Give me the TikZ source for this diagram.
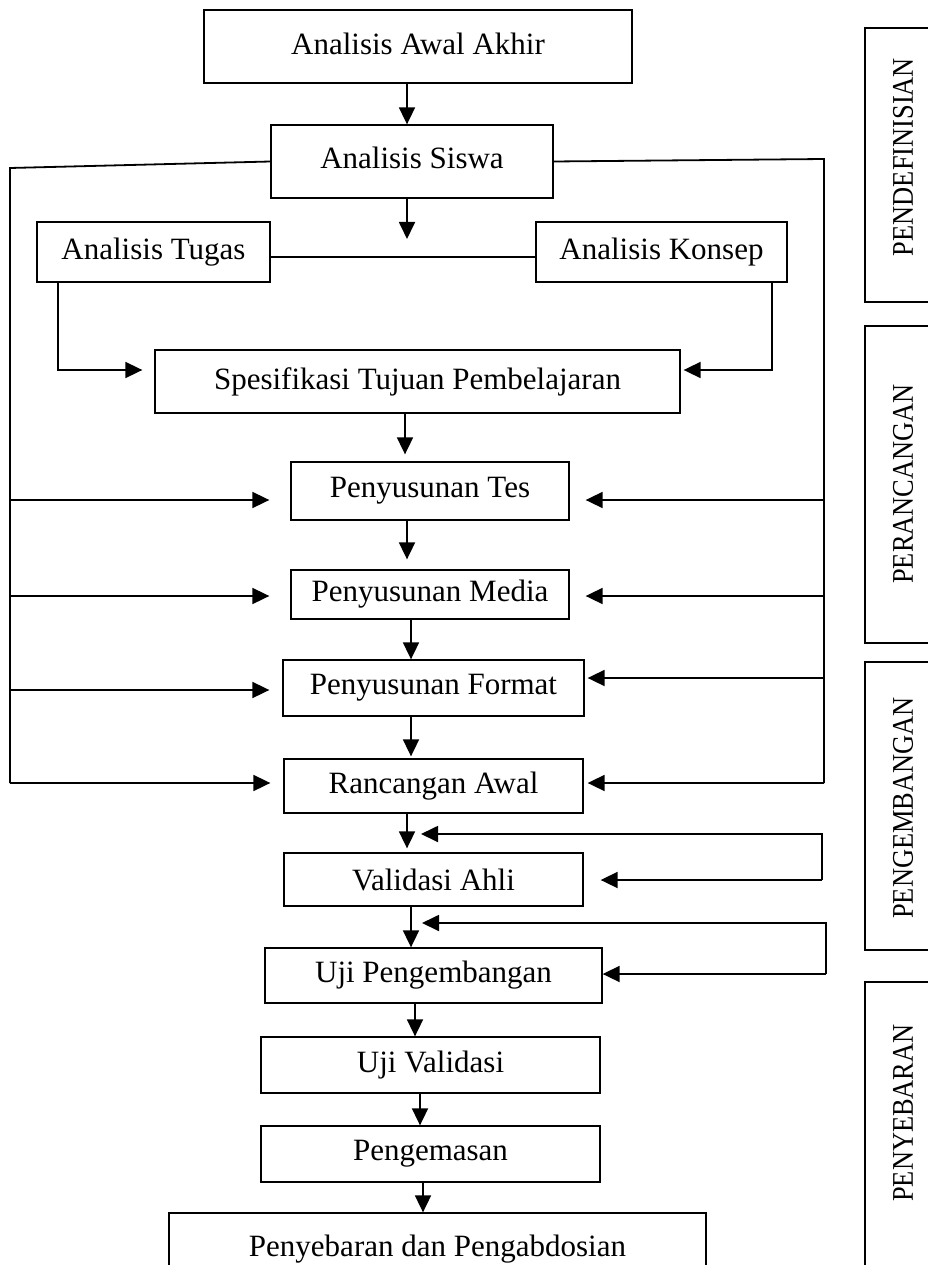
\documentclass[tikz,border=0pt]{standalone}
\usepackage{fontspec}
\setmainfont{Liberation Serif}
\usetikzlibrary{arrows.meta}
\begin{document}
\begin{tikzpicture}[x=1pt,y=-1pt,
  box/.style={draw, line width=1.3pt, inner sep=0pt, font=\fontsize{31}{36}\selectfont},
  flow/.style={line width=1.8pt, -{Triangle[length=17pt,width=16pt]}},
  link/.style={line width=1.8pt},
  sidebox/.style={line width=1.3pt},
  sidetext/.style={rotate=90, inner sep=0pt, font=\fontsize{30}{34}\selectfont},
]
\useasboundingbox (0,0) rectangle (928,1265);

% ---------- main flow boxes ----------
\node[box, minimum width=428pt, minimum height=73pt] (awal) at (418,46.5) {\raisebox{6pt}{Analisis Awal Akhir}};
\node[box, minimum width=282pt, minimum height=73pt] (siswa) at (412,161.5) {\raisebox{8pt}{Analisis Siswa}};
\node[box, minimum width=233pt, minimum height=60pt] (tugas) at (153.5,252) {Analisis Tugas};
\node[box, minimum width=251pt, minimum height=60pt] (konsep) at (661.5,252) {Analisis Konsep};
\node[box, minimum width=525pt, minimum height=63pt] (spes) at (417.5,381.5) {Spesifikasi Tujuan Pembelajaran};
\node[box, minimum width=278pt, minimum height=58pt] (tes) at (430,491) {Penyusunan Tes};
\node[box, minimum width=278pt, minimum height=49pt] (media) at (430,594.5) {\raisebox{-5pt}{Penyusunan Media}};
\node[box, minimum width=301pt, minimum height=56pt] (format) at (433.5,688) {Penyusunan Format};
\node[box, minimum width=299pt, minimum height=54pt] (ranc) at (433.5,786) {Rancangan Awal};
\node[box, minimum width=299pt, minimum height=53pt] (valid) at (433.5,879.5) {Validasi Ahli};
\node[box, minimum width=337pt, minimum height=55pt] (ujip) at (433.5,975.5) {Uji Pengembangan};
\node[box, minimum width=339pt, minimum height=56pt] (ujiv) at (430.5,1065) {Uji Validasi};
\node[box, minimum width=339pt, minimum height=56pt] (kemas) at (430.5,1154) {Pengemasan};
\node[box, minimum width=537pt, minimum height=77pt] (final) at (437.5,1251.5) {\raisebox{11pt}{Penyebaran dan Pengabdosian}};

% ---------- column coordinates ----------
\coordinate (c405) at (405,0);
\coordinate (c407) at (407,0);
\coordinate (c411) at (411,0);
\coordinate (c415) at (415,0);
\coordinate (c420) at (420,0);
\coordinate (c423) at (423,0);

% ---------- vertical flow arrows ----------
\draw[flow] (awal.south -| c407) -- (siswa.north -| c407);
\coordinate (sd) at (407,239);
\draw[flow] (siswa.south -| c407) -- (sd);
\draw[flow, shorten >=7pt] (spes.south -| c405) -- (tes.north -| c405);
\draw[flow, shorten >=10pt] (tes.south -| c407) -- (media.north -| c407);
\draw[flow] (media.south -| c411) -- (format.north -| c411);
\draw[flow, shorten >=2pt] (format.south -| c411) -- (ranc.north -| c411);
\draw[flow, shorten >=4pt] (ranc.south -| c407) -- (valid.north -| c407);
\draw[flow] (valid.south -| c411) -- (ujip.north -| c411);
\draw[flow] (ujip.south -| c415) -- (ujiv.north -| c415);
\draw[flow] (ujiv.south -| c420) -- (kemas.north -| c420);
\draw[flow] (kemas.south -| c423) -- (final.north -| c423);

% ---------- analysis links ----------
\draw[link] ([yshift=-5pt]tugas.east) -- ([yshift=-5pt]konsep.west);
\coordinate (t1) at (58,370);
\coordinate (k1) at (772,370);
\draw[flow, shorten >=12pt] (tugas.south -| t1) -- (t1) -- (t1 -| spes.west);
\draw[flow, shorten >=3pt] (konsep.south -| k1) -- (k1) -- (k1 -| spes.east);

% ---------- side rails ----------
\coordinate (L0) at (10,168);
\coordinate (Lb) at (10,783);
\coordinate (R0) at (824,159);
\coordinate (Rb) at (824,783);
\draw[link] (siswa.west) -- (L0) -- (Lb);
\draw[link] (siswa.east) -- (R0) -- (Rb);

\coordinate (L1) at (10,500);  \coordinate (R1) at (824,500);
\coordinate (L2) at (10,596);  \coordinate (R2) at (824,596);
\coordinate (L3) at (10,690);  \coordinate (R3) at (824,678);

\draw[flow, shorten >=21pt] (L1) -- (L1 -| tes.west);
\draw[flow, shorten >=16pt] (R1) -- (R1 -| tes.east);
\draw[flow, shorten >=21pt] (L2) -- (L2 -| media.west);
\draw[flow, shorten >=16pt] (R2) -- (R2 -| media.east);
\draw[flow, shorten >=13pt] (L3) -- (L3 -| format.west);
\draw[flow, shorten >=3pt] (R3) -- (R3 -| format.east);
\draw[flow, shorten >=13pt] (Lb) -- (Lb -| ranc.west);
\draw[flow, shorten >=4pt] (Rb) -- (Rb -| ranc.east);

% ---------- feedback loops ----------
\coordinate (f1a) at (822,834);
\coordinate (f1b) at (822,880);
\coordinate (f1t) at (421,834);
\draw[flow] (f1b) -- (f1a) -- (f1t);
\draw[flow, shorten >=17pt] (f1b) -- (f1b -| valid.east);

\coordinate (f2a) at (826,923);
\coordinate (f2b) at (826,974);
\coordinate (f2t) at (422,923);
\draw[flow] (f2b) -- (f2a) -- (f2t);
\draw[flow] (f2b) -- (f2b -| ujip.east);

% ---------- phase boxes ----------
\draw[sidebox] (941,28) -- (865,28) -- (865,302) -- (941,302);
\draw[sidebox] (941,326) -- (865,326) -- (865,643) -- (941,643);
\draw[sidebox] (941,662) -- (865,662) -- (865,950) -- (941,950);
\draw[sidebox] (941,982) -- (865,982) -- (865,1290);
\node[sidetext] (p1) at (903,157) {\scalebox{0.88}[1]{PENDEFINISIAN}};
\node[sidetext] (p2) at (903,484) {\scalebox{0.88}[1]{PERANCANGAN}};
\node[sidetext] (p3) at (903,808) {\scalebox{0.88}[1]{PENGEMBANGAN}};
\node[sidetext] (p4) at (903,1113) {\scalebox{0.88}[1]{PENYEBARAN}};
\end{tikzpicture}
\end{document}
